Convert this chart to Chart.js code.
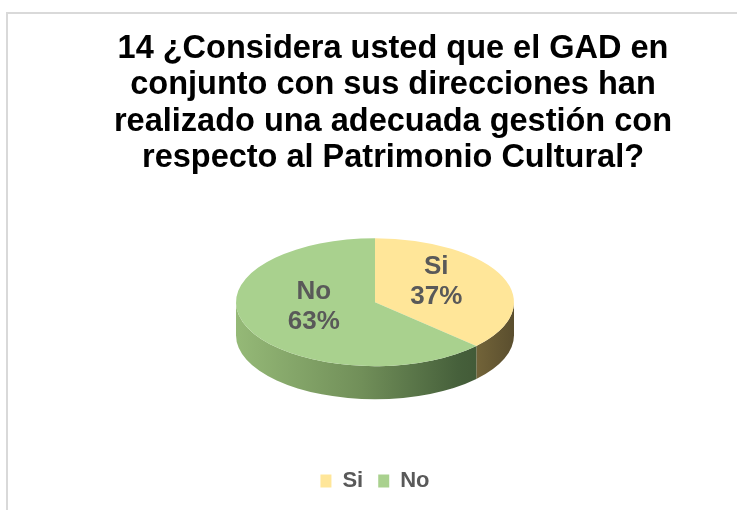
<!DOCTYPE html>
<html>
<head>
<meta charset="utf-8">
<script src="https://cdn.jsdelivr.net/npm/chart.js@4.4.1/dist/chart.umd.min.js"></script>
<style>
  html, body { margin: 0; padding: 0; background: #fff; overflow: hidden; }
  #wrap { position: relative; width: 737px; height: 510px; }
  #frame { position: absolute; left: 6px; top: 12px; right: -4px; bottom: -4px; border-left: 2px solid #d9d9d9; border-top: 2px solid #d9d9d9; }
  #chart { position: absolute; left: 0; top: 0; }
</style>
</head>
<body>
<div id="wrap">
  <div id="frame"></div>
  <canvas id="chart" width="737" height="510"></canvas>
</div>
<script>
const titleLines = [
  "14 ¿Considera usted que el GAD en",
  "conjunto con sus direcciones han",
  "realizado una adecuada gestión con",
  "respecto al Patrimonio Cultural?"
];
const categories = ["Si", "No"];
const percents = [37, 63];
const topColors = ["#FFE699", "#A9D18E"];

const FONT = "'Liberation Sans', Arial, sans-serif";

// look of the fake 3d
const tilt = 0.46;
const depth = 33;

function sideGradient(ctx, cx, r, i) {
  const g = ctx.createLinearGradient(cx - r, 0, cx + r, 0);
  if (i === 0) {
    g.addColorStop(0, "#8a7a48");
    g.addColorStop(0.85, "#75663a");
    g.addColorStop(1, "#5a4e2e");
  } else {
    g.addColorStop(0, "#95b977");
    g.addColorStop(0.45, "#718f59");
    g.addColorStop(0.8, "#46603b");
    g.addColorStop(1, "#3b4f31");
  }
  return g;
}

// parts of [a,b] that face the viewer (lower half of the ellipse)
function frontParts(a, b) {
  const out = [];
  for (let k = -1; k <= 1; k++) {
    const lo = Math.max(a, k * 2 * Math.PI);
    const hi = Math.min(b, k * 2 * Math.PI + Math.PI);
    if (hi > lo) out.push([lo, hi]);
  }
  return out;
}

const pie3d = {
  id: "pie3d",
  beforeDatasetsDraw(chart) {
    const ctx = chart.ctx;
    const arcs = chart.getDatasetMeta(0).data;
    const cx = arcs[0].x, cy = arcs[0].y - depth / 2, r = arcs[0].outerRadius;
    ctx.save();
    arcs.forEach((arc, i) => {
      frontParts(arc.startAngle, arc.endAngle).forEach(([a, b]) => {
        ctx.beginPath();
        ctx.ellipse(cx, cy, r, r * tilt, 0, a, b);
        ctx.lineTo(cx + r * Math.cos(b), cy + depth + r * tilt * Math.sin(b));
        ctx.ellipse(cx, cy + depth, r, r * tilt, 0, b, a, true);
        ctx.closePath();
        ctx.fillStyle = sideGradient(ctx, cx, r, i);
        ctx.fill();
      });
    });
    ctx.restore();
    // squash the top face
    ctx.save();
    ctx.translate(arcs[0].x, cy);
    ctx.scale(1, tilt);
    ctx.translate(-arcs[0].x, -arcs[0].y);
  },
  afterDatasetsDraw(chart) {
    const ctx = chart.ctx;
    ctx.restore();
    const arcs = chart.getDatasetMeta(0).data;
    ctx.save();
    ctx.fillStyle = "#595959";
    ctx.font = "bold 26px " + FONT;
    ctx.textAlign = "center";
    ctx.textBaseline = "middle";
    arcs.forEach((arc, i) => {
      const mid = (arc.startAngle + arc.endAngle) / 2;
      const d = arc.outerRadius * 0.48;
      const x = arc.x + Math.cos(mid) * d;
      const y = arc.y - depth / 2 + Math.sin(mid) * d * tilt - 8;
      ctx.fillText(categories[i], x, y - 15);
      ctx.fillText(percents[i] + "%", x, y + 15);
    });
    ctx.restore();
  }
};

// keeps the plot area a bit left of the title centre, like the original
const plotInset = {
  id: "plotInset",
  beforeInit(chart) {
    Chart.layouts.addBox(chart, {
      position: "right",
      weight: 0,
      fullSize: false,
      options: {},
      width: 0, height: 0, left: 0, top: 0, right: 0, bottom: 0,
      isHorizontal() { return false; },
      update(maxWidth, maxHeight) { this.width = 36; this.height = maxHeight; },
      draw() {}
    });
  }
};

new Chart(document.getElementById("chart"), {
  type: "pie",
  data: {
    labels: categories,
    datasets: [{
      data: percents,
      backgroundColor: topColors,
      borderWidth: 0,
      radius: 139,
      clip: false
    }]
  },
  options: {
    responsive: false,
    animation: false,
    events: [],
    layout: { padding: { left: 49, bottom: 8 } },
    plugins: {
      title: {
        display: true,
        text: titleLines,
        color: "#000",
        font: { family: FONT, size: 32.5, weight: "bold", lineHeight: 1.123 },
        padding: { top: 30.5, bottom: 6 }
      },
      legend: {
        position: "bottom",
        fullSize: false,
        labels: {
          color: "#595959",
          font: { family: FONT, size: 22, weight: "bold" },
          boxWidth: 11,
          boxHeight: 13,
          padding: 15
        }
      },
      tooltip: { enabled: false }
    }
  },
  plugins: [plotInset, pie3d]
});
</script>
</body>
</html>
